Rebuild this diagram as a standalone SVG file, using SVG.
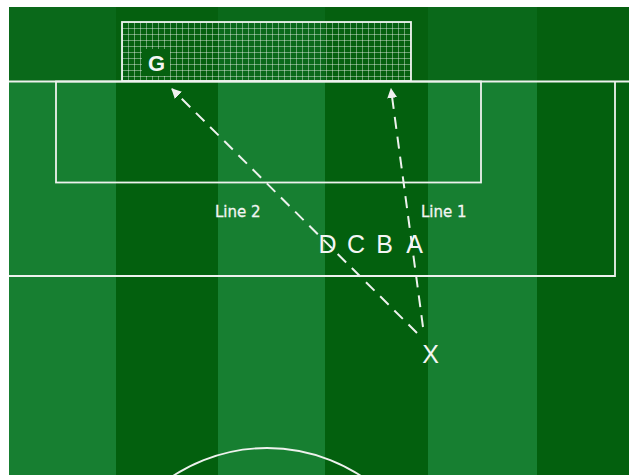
<svg xmlns="http://www.w3.org/2000/svg" width="629" height="475" viewBox="0 0 629 475">
  <defs>
    <pattern id="net" x="122" y="22" width="6" height="6" patternUnits="userSpaceOnUse">
      <path d="M0 0.5H6M0.5 0V6" stroke="#ffffff" stroke-opacity="0.4" stroke-width="1" fill="none"/>
    </pattern>
    <marker id="arrow" viewBox="0 0 10 10" refX="9" refY="5" markerWidth="10" markerHeight="10" markerUnits="userSpaceOnUse" orient="auto">
      <path d="M0 0L10 5L0 10Z" fill="#f0f0f0"/>
    </marker>
  </defs>
  <style>
    .light{fill:#177f31}
    .dark{fill:#03600e}
    .tlight{fill:#0a691a}
    .tdark{fill:#05600f}
    .pl{fill:none;stroke:#eef2ee;stroke-width:1.8}
    .conn{stroke:#eef2ee;stroke-width:2;stroke-dasharray:12 8;fill:none}
    .lbl{font-family:"DejaVu Sans",sans-serif;font-size:15px;fill:#f2f5f2;stroke:#f2f5f2;stroke-width:0.3}
    .big{font-family:"Liberation Sans",Arial,sans-serif;font-size:25px;fill:#f4f6f4}
    .g{font-family:"Liberation Sans",Arial,sans-serif;font-size:22px;font-weight:bold;fill:#f4f6f4}
  </style>
  <rect width="629" height="475" fill="#ffffff"/>
  <g id="pitch">
    <rect class="light" x="9" y="7" width="107" height="468"/>
    <rect class="dark" x="116" y="7" width="102" height="468"/>
    <rect class="light" x="218" y="7" width="107" height="468"/>
    <rect class="dark" x="325" y="7" width="103" height="468"/>
    <rect class="light" x="428" y="7" width="109" height="468"/>
    <rect class="dark" x="537" y="7" width="92" height="468"/>
    <rect class="tlight" x="9" y="7" width="107" height="74"/>
    <rect class="tdark" x="116" y="7" width="102" height="74"/>
    <rect class="tlight" x="218" y="7" width="107" height="74"/>
    <rect class="tdark" x="325" y="7" width="103" height="74"/>
    <rect class="tlight" x="428" y="7" width="109" height="74"/>
    <rect class="tdark" x="537" y="7" width="92" height="74"/>
    <rect x="122" y="22" width="289" height="59" fill="url(#net)"/>
    <rect class="pl" x="122" y="22" width="289" height="59"/>
    <path class="pl" d="M9 81.5H629"/>
    <rect class="pl" x="56" y="81.5" width="425" height="101"/>
    <path class="pl" d="M9 276H615V81.5"/>
    <circle class="pl" cx="267" cy="620" r="172"/>
  </g>
  <g id="connectors">
    <line id="line2" class="conn" x1="417" y1="333" x2="172" y2="89" marker-end="url(#arrow)"/>
    <line id="line1" class="conn" x1="423" y1="327" x2="391" y2="89" marker-end="url(#arrow)"/>
  </g>
  <g id="node-G">
    <rect x="142" y="49" width="28" height="27" class="tdark"/>
    <text class="g" x="156.5" y="71" text-anchor="middle">G</text>
  </g>
  <g id="node-X">
    <text class="big" x="430.5" y="363" text-anchor="middle">X</text>
  </g>
  <g id="label-line2"><text class="lbl" x="215" y="217">Line 2</text></g>
  <g id="label-line1"><text class="lbl" x="421" y="217">Line 1</text></g>
  <g id="node-D"><text class="big" x="327.5" y="253" text-anchor="middle">D</text></g>
  <g id="node-C"><text class="big" x="356" y="253" text-anchor="middle">C</text></g>
  <g id="node-B"><text class="big" x="384.5" y="253" text-anchor="middle">B</text></g>
  <g id="node-A"><text class="big" x="414.5" y="253" text-anchor="middle">A</text></g>
</svg>
